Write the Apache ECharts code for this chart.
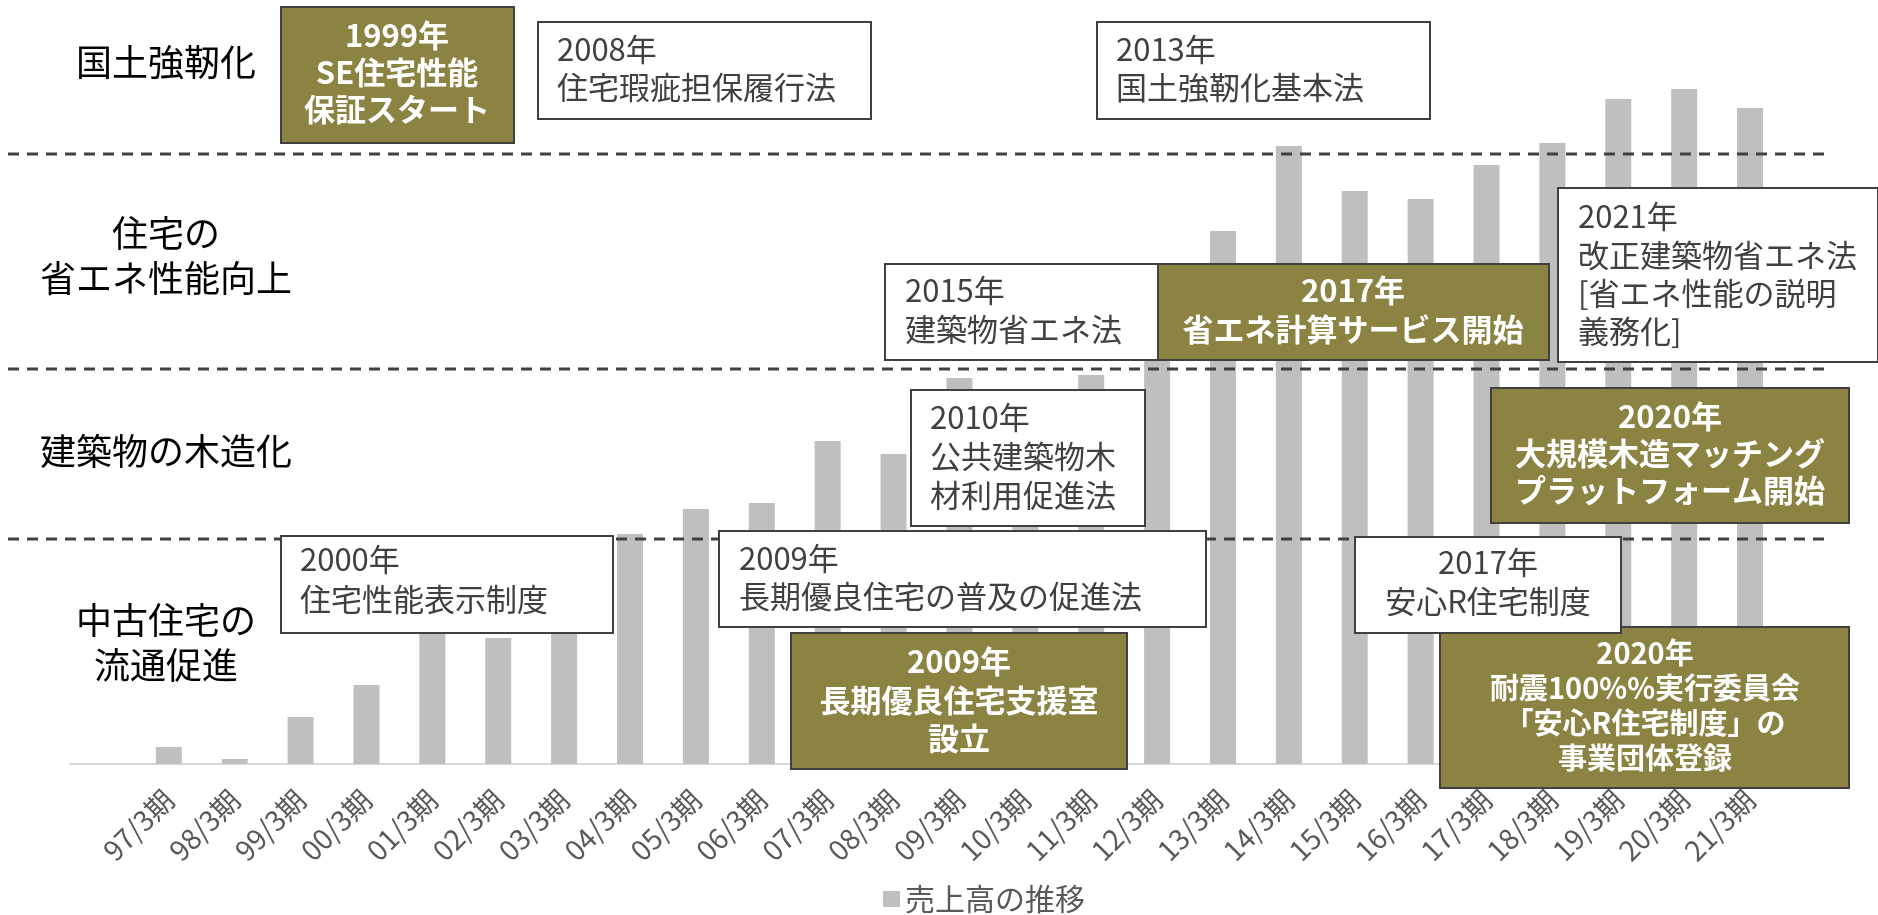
<!DOCTYPE html>
<html><head><meta charset="utf-8">
<script src="https://cdn.jsdelivr.net/npm/echarts@6/dist/echarts.min.js"></script>
<style>html,body{margin:0;padding:0;background:#fff}#c{width:1878px;height:915px}</style>
</head><body><div id="c"></div>
<script>
// ---- data ----
const categories = ['', '97/3期','98/3期','99/3期','00/3期','01/3期','02/3期','03/3期','04/3期','05/3期','06/3期','07/3期','08/3期','09/3期','10/3期','11/3期','12/3期','13/3期','14/3期','15/3期','16/3期','17/3期','18/3期','19/3期','20/3期','21/3期'];
const sales = [null,17,5,47,79,140,126,160,230,255,261,323,310,386,370,389,450,533,618,573,565,599,621,665,675,656];
const seriesName = '売上高の推移';
const themeLabels = ['国土強靭化', '住宅の\n省エネ性能向上', '建築物の木造化', '中古住宅の\n流通促進'];
const notes = [
  '1999年\nSE住宅性能\n保証スタート',
  '2008年\n住宅瑕疵担保履行法',
  '2013年\n国土強靭化基本法',
  '2015年\n建築物省エネ法',
  '2017年\n省エネ計算サービス開始',
  '2021年\n改正建築物省エネ法\n[省エネ性能の説明\n義務化]',
  '2020年\n大規模木造マッチング\nプラットフォーム開始',
  '2010年\n公共建築物木\n材利用促進法',
  '2000年\n住宅性能表示制度',
  '2009年\n長期優良住宅の普及の促進法',
  '2009年\n長期優良住宅支援室\n設立',
  '2020年\n耐震100%%実行委員会\n「安心R住宅制度」の\n事業団体登録',
  '2017年\n安心R住宅制度'
];

// ---- layout / style ----
const FF = '"Noto Sans CJK JP", "Noto Sans", sans-serif';
const OLIVE = '#8B8341';
const EDGE = '#404040';
// [noteIndex, x, y, w, h, kind('o' olive / 'w' white left / 'c' white centered), textX, textY, lineHeight, fontSize]
const boxLayout = [
  [0, 281, 7, 233, 136, 'o', 397, 72, 37, 31],
  [1, 538, 22, 333, 97, 'w', 557, 68, 38, 31],
  [2, 1097, 22, 333, 97, 'w', 1116, 68, 38, 31],
  [3, 885, 264, 273, 96, 'w', 905, 310, 39, 31],
  [4, 1158, 264, 391, 96, 'o', 1353, 310, 39, 31],
  [5, 1558, 188, 320, 174, 'w', 1578, 274, 38.3, 31],
  [6, 1491, 388, 358, 135, 'o', 1670, 453, 37, 31],
  [7, 911, 390, 234, 136, 'w', 930, 456, 39, 31],
  [8, 281, 536, 332, 97, 'w', 300, 579, 40, 31],
  [9, 719, 531, 487, 96, 'w', 739, 577, 38, 31],
  [10, 791, 633, 336, 136, 'o', 959, 700, 38.3, 31],
  [11, 1440, 627, 409, 161, 'o', 1645, 705, 35, 29],
  [12, 1355, 537, 266, 96, 'c', 1488, 582, 39, 31]
];
const themePos = [[166, 62], [166, 256], [166, 451], [166, 643]];
const dashY = [154, 369, 539];

const graphics = [];
dashY.forEach(y => graphics.push({
  type: 'line', z: 50, shape: {x1: 8, y1: y, x2: 1829, y2: y},
  style: {stroke: EDGE, lineWidth: 3, lineDash: [11, 8]}
}));
themeLabels.forEach((t, i) => graphics.push({
  type: 'text', z: 50,
  style: {text: t, x: themePos[i][0], y: themePos[i][1], fill: '#000', font: '36px ' + FF,
    textAlign: 'center', textVerticalAlign: 'middle', lineHeight: 45}
}));
boxLayout.forEach(b => {
  const [ni, x, y, w, h, kind, tx, ty, lh, fs] = b;
  const olive = kind === 'o';
  graphics.push({
    type: 'rect', z: 60, shape: {x: x, y: y, width: w, height: h},
    style: {fill: olive ? OLIVE : '#fff', stroke: EDGE, lineWidth: 2}
  });
  graphics.push({
    type: 'text', z: 61,
    style: {text: notes[ni], x: tx, y: ty, fill: olive ? '#fff' : '#404040',
      font: (olive ? 'bold ' : '') + fs + 'px ' + FF,
      textAlign: kind === 'w' ? 'left' : 'center', textVerticalAlign: 'middle', lineHeight: lh}
  });
});

const chart = echarts.init(document.getElementById('c'));
chart.setOption({
  backgroundColor: '#fff',
  animation: false,
  textStyle: {fontFamily: FF},
  grid: {left: 70, right: 95, top: 64, bottom: 151, containLabel: false},
  legend: {
    data: [seriesName], left: 883, top: 884, padding: 0, icon: 'rect', itemWidth: 17, itemHeight: 16, itemGap: 10,
    textStyle: {fontSize: 30, color: '#595959', fontFamily: FF}
  },
  xAxis: {
    type: 'category', data: categories,
    axisLine: {lineStyle: {color: '#D9D9D9', width: 2}},
    axisTick: {show: false},
    axisLabel: {rotate: 45, interval: 0, margin: 31, fontSize: 28, color: '#595959', fontFamily: FF}
  },
  yAxis: {type: 'value', min: 0, max: 700, show: false, splitLine: {show: false}},
  series: [{
    name: seriesName, type: 'bar', data: sales, barWidth: 26,
    itemStyle: {color: '#BFBFBF'}
  }],
  graphic: graphics
});
</script></body></html>
